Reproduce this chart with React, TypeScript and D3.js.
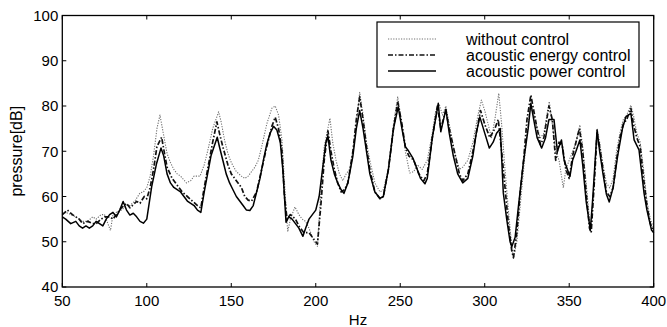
import React, { useRef, useEffect } from 'react';
import * as d3 from 'd3';

// tick labels
const xTicks = [50, 100, 150, 200, 250, 300, 350, 400];
const yTicks = [40, 50, 60, 70, 80, 90, 100];

// [Hz, dB]
const withoutControl: [number, number][] = [
  [50, 56], [52, 56.5], [55, 56], [58, 55.5], [60, 55], [62, 54.5], [65, 54.5], [68, 55.5], [70, 55], [73, 56],
  [75, 56], [77, 54], [78.5, 52.5], [80, 56], [82, 56.5], [85, 57], [88, 58], [90, 58], [93, 59], [96, 60.8],
  [98, 61], [100, 62], [102, 64.5], [104, 69], [106, 75], [107.8, 78], [110, 73.5], [112, 69.5], [114, 67.5],
  [116, 66], [118, 65], [120, 64.5], [123.5, 63], [126, 63.5], [128, 64.5], [131.5, 64.5], [134, 67], [136, 70],
  [139, 75], [142.5, 78.7], [144, 76.5], [146, 72.5], [148, 69.5], [150, 67.5], [153, 65.5], [156, 64.5],
  [158, 64], [160, 64.5], [162, 65.5], [164, 66.5], [166, 68], [168, 71], [171, 76], [174, 79.5], [176, 80],
  [178, 78], [180, 72.5], [182, 60], [183.4, 52.2], [185, 55], [187.7, 57.7], [190, 56], [192, 55],
  [194, 54.5], [196, 53], [199, 50], [201, 49], [203, 61], [205, 71], [208.4, 77.3], [210, 72], [212, 68],
  [214, 65], [216, 63.5], [218, 65], [220, 66], [222, 70], [224, 76], [226, 83], [228, 78], [230, 72],
  [232, 68], [235, 63], [238, 61], [240, 61.5], [243, 66], [246, 76], [248.5, 82], [251, 76], [253, 70],
  [255.6, 65.2], [258, 65.5], [260, 67], [263, 66], [266, 68], [269, 74], [271, 79], [273, 80.5], [275, 78],
  [277, 80], [279, 76], [282, 70], [285, 66], [287, 66.5], [290, 68], [293, 72], [296, 78], [298, 81.3],
  [300, 79], [302, 76], [304, 73], [306, 77], [308.3, 82.8], [310, 76], [312, 66], [314, 57], [316, 49],
  [317, 46.3], [319, 50], [321, 58], [323, 66], [325, 74], [327, 80], [329, 78], [331, 75], [333, 73],
  [335, 74], [338.2, 81], [340, 76], [342, 70], [344, 68], [346.5, 61.9], [348, 66], [350, 68], [352, 70],
  [354, 72], [356.3, 75.8], [358, 71], [360, 63], [362, 55], [363, 53], [365, 65], [366.5, 75], [368, 72],
  [370, 67], [372, 63], [374, 61.9], [376, 64], [378, 70], [380, 74], [382, 77], [384, 78], [386.5, 80.2],
  [388, 78], [390, 74], [392, 72], [394, 66], [396, 59], [398, 55], [400, 53],
];

const energyControl: [number, number][] = [
  [50, 56], [53, 57], [56, 56], [58, 55.5], [60, 55], [62, 54], [65, 54.5], [68, 54], [70, 54], [73, 55],
  [75, 55.5], [78, 55.5], [80, 55], [82, 56], [85, 57.5], [88, 58.5], [90, 57.5], [94, 58.9], [96, 58.5],
  [98.5, 60], [100, 59.5], [102, 62], [104, 66], [106, 71], [108.8, 73.1], [110, 70.5], [112, 66.5],
  [115, 64], [118, 62.5], [121, 61], [124, 60], [127, 59], [130, 58], [132, 57.5], [134, 62], [137, 68],
  [139, 72], [141.5, 76.5], [143, 74], [145, 71], [148, 67], [150, 65], [153, 63.5], [156, 62], [158, 60],
  [160, 59.2], [162, 59], [165, 61], [168, 66], [171, 71], [174, 75.5], [176, 77.5], [178, 75], [180, 70],
  [181.5, 60], [183, 55], [185, 56], [188, 55], [190, 53.5], [193, 52], [196, 52], [199, 50.5], [201, 49.5],
  [203, 58], [205, 68], [207.2, 74.5], [209, 70], [211, 66], [213, 63], [215, 61], [217, 61.5], [219, 63],
  [222, 70], [224, 77], [226, 82], [228, 77], [230, 71], [232, 66], [235, 61], [238, 59.5], [240, 60],
  [243, 66], [246, 75], [248.5, 81], [251, 76], [253, 71], [255, 69], [258, 68], [261, 65], [264, 63.5],
  [266, 65], [269, 73], [272, 80], [274, 75], [277, 79], [279, 75], [282, 70], [285, 65], [287, 63.5],
  [290, 65], [293, 70], [296, 76], [297.5, 79], [300, 76], [303, 73], [306, 75], [308, 77], [310, 70],
  [312, 62], [314, 54], [316, 48], [317, 46.5], [319, 52], [321, 61], [323, 68], [325, 77], [327.3, 82.4],
  [329, 79], [331, 75], [333, 71.5], [335, 73], [338, 80], [340, 77], [342, 68], [344, 72], [346, 71],
  [348, 66], [350, 64], [352, 69], [354, 72], [356, 75], [358, 70], [360, 61], [362, 53], [363, 52],
  [365, 64], [366.5, 74], [368, 71], [370, 66], [372, 61], [374, 60], [376, 62], [378, 68], [380, 73],
  [382, 76], [384, 77], [386.5, 79.5], [388, 76], [390, 73], [392, 71], [394, 64], [396, 58], [398, 54],
  [400, 52.5],
];

const powerControl: [number, number][] = [
  [50, 55.5], [52, 55], [55, 54], [58, 54.5], [60, 53.5], [62, 53], [64, 53.5], [66, 53], [68, 53.5],
  [70, 54.5], [72, 54], [74, 53.5], [76, 55], [78, 56], [80, 56.5], [82, 55.5], [84, 57], [86, 58.9],
  [88, 57], [90, 55.9], [92, 56.3], [94, 55.5], [96, 54.5], [98, 54.1], [100, 55], [102.9, 62.2],
  [105.8, 67.3], [108.4, 70.7], [110, 69], [112, 65], [114, 63], [116, 62], [118, 61.5], [120, 61],
  [122, 60], [124, 59], [126, 58.5], [128, 58], [130, 57], [132, 56.5], [134, 61], [136, 65], [138, 69],
  [141.7, 73.1], [143, 71], [145, 68], [147, 65], [149, 63], [151, 61.5], [153, 60], [155, 59], [157, 58],
  [159, 57], [161, 56.9], [163, 58], [165, 61], [167, 64], [169, 68], [171, 71.5], [173, 74], [175, 75.5],
  [177, 74.7], [179, 72], [180.5, 66], [182.4, 54.3], [184, 55.5], [186, 55], [188, 54], [190, 53],
  [192.4, 51.2], [194, 53], [196, 55], [198, 56], [200, 57], [202, 60], [204, 66], [206, 72], [207.2, 73.4],
  [209, 68], [211, 65], [213, 63], [215, 61.5], [216.7, 60.7], [219, 63], [222, 69], [224, 75], [226, 79],
  [228, 75], [230, 70], [232, 65], [235, 61], [238, 59.6], [240, 60], [243, 66], [246, 75], [248.8, 79.8],
  [251, 75], [253, 71], [254.5, 70.3], [257.5, 68.5], [260, 66], [262, 64], [264.6, 62.8], [266, 64],
  [269, 73], [272.5, 80.6], [274, 74.3], [277, 79.3], [279, 74], [281.4, 69], [284, 65], [287, 63],
  [290, 64], [293, 69], [295, 74], [297.1, 77.6], [300, 74], [302.7, 70.7], [305, 72], [307, 74],
  [309.2, 75], [311, 60.8], [313, 55], [315, 50], [316, 48.9], [318, 51], [320, 58], [322.8, 67.3],
  [325.7, 75], [327.3, 80.6], [329, 77], [331, 73], [333.7, 70.7], [336, 73], [338, 77], [341, 77],
  [343, 70], [345.4, 72.5], [347, 68], [350.4, 64.4], [352, 68], [354, 70], [356.3, 72.5], [358, 67],
  [360, 59], [362.5, 52.6], [364, 60], [366.5, 74.7], [368, 70], [370, 65], [372, 60.5], [373.7, 58.8],
  [376, 62], [378.6, 68.8], [381.5, 75], [383.5, 77.6], [386.5, 78.4], [388.4, 72.5], [391.3, 70.3],
  [394.3, 60.7], [396, 57], [398.7, 52.6], [400, 52],
];

const legendLabels = ['without control', 'acoustic energy control', 'acoustic power control'];

const App: React.FC = () => {
  const svgRef = useRef<SVGSVGElement>(null);

  const width = 667;
  const height = 327;
  const marginTop = 15.5;
  const marginRight = 13.3;
  const marginBottom = 40;
  const marginLeft = 62.3;
  const font = 'Liberation Sans, Arial, sans-serif';
  const fs = 15;

  const x = d3.scaleLinear().domain([50, 400]).range([marginLeft, width - marginRight]);
  const y = d3.scaleLinear().domain([40, 100]).range([height - marginBottom, marginTop]);

  useEffect(() => {
    if (!svgRef.current) return;
    const svg = d3.select(svgRef.current);
    svg.selectAll('*').remove();

    const line = d3.line<[number, number]>()
      .x((d) => x(d[0]))
      .y((d) => y(d[1]));

    const series = [
      { data: withoutControl, stroke: '#707070', width: 1.1, dash: '1.2,1.4' },
      { data: energyControl, stroke: '#111', width: 1.7, dash: '5,2,1.5,2' },
      { data: powerControl, stroke: '#000', width: 1.5, dash: null },
    ];

    series.forEach((s) => {
      svg.append('path')
        .datum(s.data)
        .attr('d', line)
        .attr('fill', 'none')
        .attr('stroke', s.stroke)
        .attr('stroke-width', s.width)
        .attr('stroke-dasharray', s.dash)
        .attr('stroke-linejoin', 'round');
    });

    // frame
    svg.append('rect')
      .attr('x', x(50))
      .attr('y', y(100))
      .attr('width', x(400) - x(50))
      .attr('height', y(40) - y(100))
      .attr('fill', 'none')
      .attr('stroke', '#000')
      .attr('stroke-width', 1.3);

    // inward ticks, all four sides
    const tl = 4;
    xTicks.forEach((t) => {
      svg.append('line').attr('x1', x(t)).attr('x2', x(t))
        .attr('y1', y(40)).attr('y2', y(40) - tl).attr('stroke', '#000');
      svg.append('line').attr('x1', x(t)).attr('x2', x(t))
        .attr('y1', y(100)).attr('y2', y(100) + tl).attr('stroke', '#000');
      svg.append('text').attr('x', x(t)).attr('y', y(40) + 19)
        .attr('text-anchor', 'middle').attr('font-family', font).attr('font-size', fs)
        .text(t);
    });
    yTicks.forEach((t) => {
      svg.append('line').attr('x1', x(50)).attr('x2', x(50) + tl)
        .attr('y1', y(t)).attr('y2', y(t)).attr('stroke', '#000');
      svg.append('line').attr('x1', x(400)).attr('x2', x(400) - tl)
        .attr('y1', y(t)).attr('y2', y(t)).attr('stroke', '#000');
      svg.append('text').attr('x', x(50) - 4).attr('y', y(t)).attr('dy', '0.35em')
        .attr('text-anchor', 'end').attr('font-family', font).attr('font-size', fs)
        .text(t);
    });

    // axis titles
    svg.append('text').attr('x', (x(50) + x(400)) / 2).attr('y', 325)
      .attr('text-anchor', 'middle').attr('font-family', font).attr('font-size', fs)
      .text('Hz');
    svg.append('text')
      .attr('transform', `translate(22,${(y(40) + y(100)) / 2}) rotate(-90)`)
      .attr('text-anchor', 'middle').attr('font-family', font).attr('font-size', 16)
      .text('pressure[dB]');

    // legend
    const lg = svg.append('g');
    lg.append('rect').attr('x', 377).attr('y', 22).attr('width', 262).attr('height', 65)
      .attr('fill', '#fff').attr('stroke', '#000').attr('stroke-width', 1.2);
    legendLabels.forEach((label, i) => {
      const s = series[i];
      const ly = 39 + i * 16;
      lg.append('line').attr('x1', 388).attr('x2', 436).attr('y1', ly).attr('y2', ly)
        .attr('stroke', s.stroke).attr('stroke-width', s.width).attr('stroke-dasharray', s.dash);
      lg.append('text').attr('x', 466).attr('y', ly).attr('dy', '0.35em')
        .attr('font-family', font).attr('font-size', 16).text(label);
    });
  }, []);

  return (
    <svg ref={svgRef} width={width} height={height}
      style={{ position: 'absolute', left: 0, top: 0, background: '#fff' }} />
  );
};

export default App;
